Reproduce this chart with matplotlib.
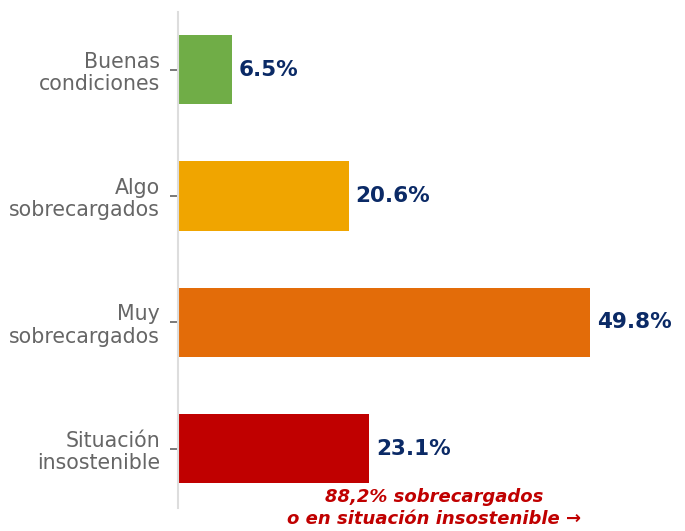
import matplotlib
matplotlib.use("Agg")
import matplotlib.pyplot as plt

plt.rcParams["font.family"] = ["DejaVu Sans"]

categories = ["Buenas\ncondiciones", "Algo\nsobrecargados", "Muy\nsobrecargados", "Situación\ninsostenible"]
values = [6.5, 20.6, 49.8, 23.1]
value_labels = ["6.5%", "20.6%", "49.8%", "23.1%"]
colors = ["#70ad47", "#f0a500", "#e36c09", "#c00000"]
note = "88,2% sobrecargados\no en situación insostenible →"

fig = plt.figure(figsize=(6.85, 5.31), dpi=100)
ax = fig.add_axes([0.26, 0.0433, 0.725, 0.934])

pos = list(range(len(values)))
ax.barh(pos, values, height=0.55, color=colors)
ax.set_ylim(3.47, -0.455)
ax.set_xlim(0, 60)

for p, v, lab in zip(pos, values, value_labels):
    ax.annotate(lab, (v, p), xytext=(5, 0), textcoords="offset points",
                va="center", ha="left", fontsize=15.5, fontweight="bold", color="#0b2a66")

ax.set_yticks(pos)
ax.set_yticklabels(categories, fontsize=14.8, color="#666666", linespacing=1.15)
ax.tick_params(axis="y", length=6, width=1.1, color="#555555", pad=7)
ax.set_xticks([])
for s in ("top", "right", "bottom"):
    ax.spines[s].set_visible(False)
ax.spines["left"].set_color("#dddddd")
ax.spines["left"].set_linewidth(1.5)

fig.text(434 / 685, 1 - 508 / 531, note, ha="center", va="center", fontsize=13,
         fontweight="bold", fontstyle="italic", color="#c00000", linespacing=1.25)

fig.savefig("out.png", dpi=100)
